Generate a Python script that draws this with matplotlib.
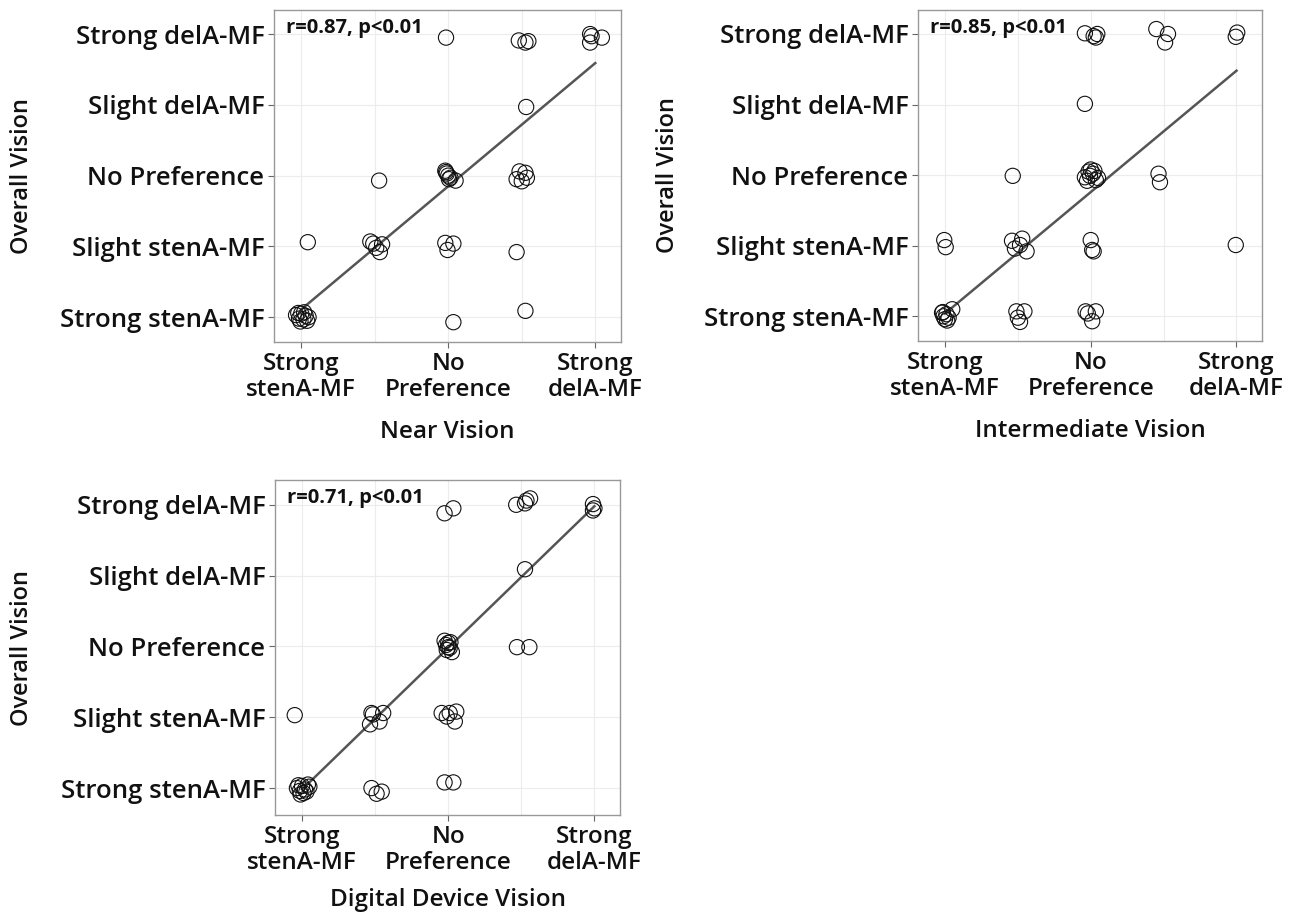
import matplotlib
matplotlib.use("Agg")
import matplotlib.pyplot as plt

plt.rcParams['font.family'] = ['Open Sans', 'DejaVu Sans']

y_labels = ["Strong stenA-MF", "Slight stenA-MF", "No Preference",
            "Slight delA-MF", "Strong delA-MF"]
x_labels = ["Strong\nstenA-MF", "No\nPreference", "Strong\ndelA-MF"]

# jittered responses
near_x = [2.97, 3.96, 4.05, 4.09, 4.93, 4.93, 5.09, 4.95,
          4.06,
          2.96, 2.98, 3.00, 3.03, 3.10, 2.97, 3.01,
          2.06,
          3.93, 4.00, 4.05, 3.97, 4.07,
          1.09,
          1.94, 2.02, 2.07, 1.98, 2.10,
          2.96, 3.07, 2.99,
          3.93,
          0.93, 0.97, 1.00, 1.03, 1.06, 1.08, 0.96, 1.04, 1.10, 0.99,
          3.07, 4.05]
near_y = [4.95, 4.91, 4.88, 4.90, 5.00, 4.88, 4.95, 4.97,
          3.97,
          3.07, 3.03, 3.00, 2.97, 2.93, 3.05, 2.95,
          2.93,
          2.95, 2.92, 3.04, 3.06, 2.97,
          2.06,
          2.07, 1.98, 1.92, 2.04, 2.03,
          2.05, 2.04, 1.95,
          1.92,
          1.03, 0.98, 1.05, 0.97, 1.02, 0.95, 1.06, 1.07, 1.00, 0.94,
          0.93, 1.09]

inter_x = [2.92, 3.04, 3.07, 3.09, 3.90, 4.06, 4.02, 5.01, 4.99,
           2.92,
           1.93,
           2.92, 2.97, 3.00, 3.03, 3.07, 3.10, 2.95, 3.05, 2.99,
           3.93, 3.95,
           0.99, 1.01,
           1.92, 1.96, 2.06, 2.12, 2.03,
           3.00, 3.02, 3.04,
           4.99,
           0.96, 0.98, 1.00, 1.02, 1.05, 0.97, 1.03, 1.10,
           1.98, 2.00, 2.09, 2.03,
           2.93, 3.07, 3.02, 2.96]
inter_y = [5.01, 4.97, 4.95, 5.00, 5.07, 5.00, 4.88, 5.02, 4.96,
           4.01,
           2.99,
           2.97, 3.05, 3.08, 3.02, 2.93, 2.96, 2.92, 3.06, 2.99,
           3.02, 2.90,
           2.08, 1.98,
           2.07, 1.96, 2.10, 1.92, 2.01,
           2.08, 1.94, 1.92,
           2.01,
           1.05, 1.00, 0.96, 1.03, 0.98, 1.06, 0.94, 1.10,
           1.07, 0.98, 1.07, 0.92,
           1.07, 1.07, 0.93, 1.04]

digital_x = [2.95, 3.07, 3.93, 4.05, 4.12, 4.07, 4.98, 4.98, 5.00,
             4.05,
             2.95, 2.97, 3.00, 3.02, 3.05, 2.98, 3.03, 3.00,
             3.94, 4.11,
             0.90,
             1.95, 1.93, 2.06, 2.11, 1.97,
             2.91, 2.98, 3.09, 3.11, 3.02,
             0.93, 0.97, 1.00, 1.04, 1.08, 0.95, 1.02, 1.10, 0.98, 1.06,
             1.95, 2.02, 2.09,
             2.95, 3.07]
digital_y = [4.88, 4.95, 5.00, 5.02, 5.09, 5.06, 5.01, 4.92, 4.95,
             4.09,
             3.08, 3.02, 3.05, 2.98, 2.92, 2.95, 3.06, 2.99,
             2.99, 2.99,
             2.03,
             2.06, 1.90, 1.94, 2.06, 2.04,
             2.06, 2.01, 1.94, 2.08, 2.06,
             1.00, 0.96, 1.03, 0.98, 1.05, 1.04, 0.93, 1.02, 0.91, 0.95,
             1.00, 0.92, 0.95,
             1.08, 1.08]

# fitted lines (slope, intercept) and stats
near_fit = (0.87, 0.24)
inter_fit = (0.86, 0.18)
digital_fit = (1.00, -0.02)
near_stat = "r=0.87, p<0.01"
inter_stat = "r=0.85, p<0.01"
digital_stat = "r=0.71, p<0.01"

W, H = 1291, 914
fig = plt.figure(figsize=(W / 100, H / 100), dpi=100)

# (left, top, right, bottom) in pixels, ylabel x in pixels, xlabel pad
panels = [
    ((274, 10, 621, 342), 34, 13, near_x, near_y, near_fit, near_stat, "Near Vision", (0.65, 5.34)),
    ((918, 10, 1262, 341), 680, 13, inter_x, inter_y, inter_fit, inter_stat, "Intermediate Vision", (0.65, 5.34)),
    ((275, 480, 620, 815), 34, 10, digital_x, digital_y, digital_fit, digital_stat, "Digital Device Vision", (0.62, 5.35)),
]

for (l, t, r, b), ylab_x, xpad, xs, ys, fit, stat, xlabel, ylim in panels:
    ax = fig.add_axes([l / W, 1 - b / H, (r - l) / W, (b - t) / H])
    ax.set_xlim(0.63, 5.35)
    ax.set_ylim(*ylim)
    for v in [1, 2, 3, 4, 5]:
        ax.axvline(v, color="#ececec", lw=0.8, zorder=0)
        ax.axhline(v, color="#ececec", lw=0.8, zorder=0)
    ax.scatter(xs, ys, s=120, facecolors="none", edgecolors="#111111",
               linewidths=0.8, zorder=3)
    slope, icpt = fit
    ax.plot([1, 5], [slope*1 + icpt, slope*5 + icpt], color="#555555",
            lw=1.8, zorder=2)
    ax.text(0.035, 0.975, stat, transform=ax.transAxes, ha="left", va="top",
            fontsize=14.5, fontweight="bold", color="#111111")
    ax.set_xticks([1, 3, 5])
    ax.set_xticklabels(x_labels, fontsize=17.5, fontweight="semibold",
                       color="#111111", linespacing=1.1)
    ax.set_yticks([1, 2, 3, 4, 5])
    ax.set_yticklabels(y_labels, fontsize=18.5, fontweight="semibold",
                       color="#111111")
    ax.tick_params(length=4, width=0.8, color="#666666", pad=3)
    for sp in ax.spines.values():
        sp.set_color("#999999")
        sp.set_linewidth(1.0)
    ax.set_xlabel(xlabel, fontsize=17.5, fontweight="semibold",
                  color="#111111", labelpad=xpad)
    ax.set_ylabel("Overall Vision", fontsize=17, fontweight="semibold",
                  color="#111111")
    ax.yaxis.set_label_coords(-(l - ylab_x) / (r - l), 0.5)

fig.savefig("out.png", dpi=100)
